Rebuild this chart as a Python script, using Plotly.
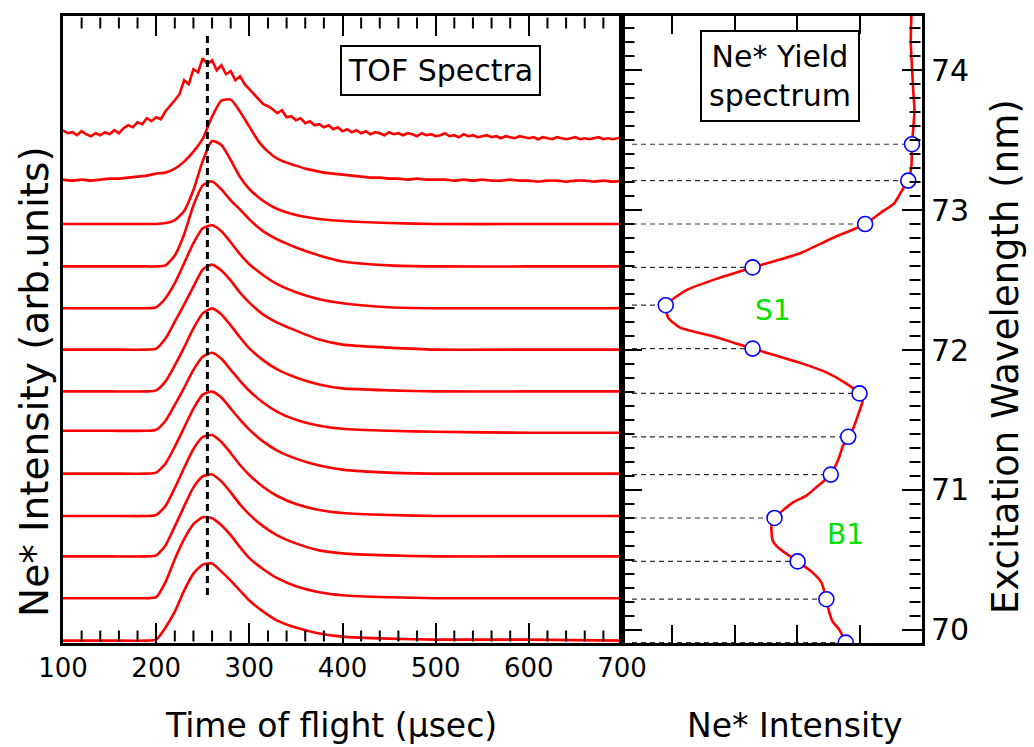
import plotly.graph_objects as go

# ---------------------------------------------------------------------------
# Data
# ---------------------------------------------------------------------------
# Excitation wavelengths (nm) at which the TOF spectra were recorded, top to bottom
wavelengths = [73.47, 73.21, 72.90, 72.59, 72.32, 72.01, 71.69, 71.38,
               71.11, 70.80, 70.49, 70.22, 69.91]
# Ne* yield at those wavelengths (arb. units)
yield_at_tof = [4.84, 4.78, 4.09, 2.29, 0.90, 2.29, 4.00, 3.82,
                3.54, 2.64, 3.01, 3.47, 3.78]

# Ne* yield spectrum (wavelength in nm, intensity in arb. units)
yield_wl = [74.39, 74.20, 74.02, 73.85, 73.71, 73.47, 73.31, 73.21, 73.14, 73.05,
            72.99, 72.90, 72.80, 72.69, 72.59, 72.51, 72.43, 72.32, 72.23, 72.16,
            72.09, 72.01, 71.91, 71.84, 71.76, 71.69, 71.64, 71.54, 71.43, 71.38,
            71.31, 71.24, 71.11, 71.02, 70.96, 70.91, 70.80, 70.74, 70.64, 70.58,
            70.49, 70.41, 70.34, 70.22, 70.12, 70.06, 70.00, 69.91]
yield_int = [4.83, 4.82, 4.84, 4.86, 4.88, 4.84, 4.83, 4.78, 4.68, 4.56,
             4.37, 4.09, 3.57, 3.04, 2.29, 1.72, 1.24, 0.90, 0.94, 1.13,
             1.72, 2.29, 3.04, 3.47, 3.79, 4.00, 4.05, 3.98, 3.89, 3.82,
             3.73, 3.68, 3.54, 3.31, 3.15, 2.93, 2.64, 2.59, 2.61, 2.72,
             3.01, 3.25, 3.39, 3.47, 3.52, 3.57, 3.68, 3.78]

# Flight-time grids (usec)
tof_5us = list(range(100, 701, 5))
tof_10us = list(range(100, 701, 10))
tof_grid = [100, 150, 190, 200, 210, 220, 230, 240, 250, 260, 270, 280, 290,
            300, 315, 330, 350, 375, 400, 450, 500, 600, 700]

# TOF spectra (counts, arb. units)
spec_7347 = [14, 11, 12, 9, 13, 10, 8, 11, 9, 12, 10, 14, 11, 16, 19, 17, 22, 20,
             26, 23, 27, 25, 33, 38, 44, 50, 64, 60, 75, 72, 86, 80, 84, 74, 79,
             70, 73, 64, 68, 60, 55, 50, 44, 40, 38, 35, 31, 34, 27, 28, 24, 26,
             21, 23, 19, 20, 17, 19, 15, 17, 13, 15, 12, 14, 11, 13, 10, 12, 11,
             9, 12, 10, 11, 9, 11, 10, 8, 11, 9, 10, 8, 9, 11, 8, 9, 7, 10, 8, 9,
             7, 8, 9, 7, 8, 6, 8, 7, 6, 8, 7, 6, 7, 5, 7, 6, 5, 7, 6, 5, 6, 7, 5,
             6, 5, 6, 7, 5, 6, 5, 6, 7]
spec_7321 = [1, 0, 1, 0, 1, 2, 2, 3, 4, 5, 7, 8, 12, 19, 29, 42, 64, 80, 81, 69,
             54, 39, 29, 22, 18, 15, 12, 10, 8, 7, 6, 5, 4, 3, 3, 2, 2, 1, 2, 1,
             1, 1, 0, 1, 0, 1, 0, 0, 1, 0, 0, -1, 0, 0, -1, 0, 0, -1, 0, -1, 0]
spec_7290 = [0, 0, 0, 0, 1, 4, 13, 34, 63, 83, 79, 64, 47, 35, 23, 15, 9, 5, 3, 1, 0, 0, 0]
spec_7259 = [1, 1, 1, 1, 2, 12, 33, 62, 82, 86, 78, 67, 58, 48, 36, 28, 20, 12, 6, 2, 1, 1, 1]
spec_7232 = [-3, -3, -3, -2, 7, 22, 42, 62, 77, 80, 74, 63, 51, 41, 30, 21, 13, 6, 2, -2, -3, -3, -3]
spec_7201 = [-1, -1, -1, 0, 10, 27, 44, 62, 79, 84, 78, 68, 56, 46, 34, 26, 18, 9, 4, 1, -1, -1, -1]
spec_7169 = [2, 2, 2, 3, 12, 28, 46, 65, 80, 85, 79, 68, 56, 45, 33, 24, 16, 9, 5, 3, 2, 2, 2]
spec_7138 = [6, 6, 6, 7, 16, 32, 49, 67, 80, 84, 78, 67, 56, 46, 34, 25, 17, 11, 8, 6, 5, 4, 4]
spec_7111 = [1, 1, 1, 2, 11, 28, 47, 66, 80, 83, 77, 66, 55, 45, 33, 24, 16, 9, 5, 2, 1, 1, 1]
spec_7080 = [2, 2, 2, 3, 12, 30, 50, 69, 81, 83, 76, 65, 53, 43, 31, 22, 14, 8, 5, 3, 2, 2, 2]
spec_7049 = [5, 5, 5, 6, 16, 35, 55, 74, 85, 87, 80, 69, 57, 47, 35, 26, 18, 11, 8, 6, 5, 5, 5]
spec_7022 = [1, 1, 1, 2, 17, 40, 60, 75, 82, 81, 74, 64, 52, 41, 30, 21, 13, 7, 4, 2, 1, 1, 1]
spec_6991 = [2, 2, 2, 3, 15, 31, 52, 69, 78, 79, 71, 62, 52, 42, 31, 22, 15, 9, 6, 4, 3, 3, 2]

spectra = [
    (tof_5us, spec_7347), (tof_10us, spec_7321), (tof_grid, spec_7290),
    (tof_grid, spec_7259), (tof_grid, spec_7232), (tof_grid, spec_7201),
    (tof_grid, spec_7169), (tof_grid, spec_7138), (tof_grid, spec_7111),
    (tof_grid, spec_7080), (tof_grid, spec_7049), (tof_grid, spec_7022),
    (tof_grid, spec_6991),
]

peak_tof = 255            # usec, marked by the vertical dashed line
peak_line_wl = [70.25, 74.26]

tof_range = [100, 700]
tof_minor = [t for t in range(120, 700, 20) if t % 100]
intensity_range = [0.2, 5.0]
intensity_ticks = [1, 2, 3, 4]
wl_minor = [round(70 + 0.1 * k, 1) for k in range(1, 44) if k % 10]

# ---------------------------------------------------------------------------
# Layout constants
# ---------------------------------------------------------------------------
W, H = 1034, 747
ML, MR, MT, MB = 63, 112, 16, 104
PW, PH = W - ML - MR, H - MT - MB
SPLIT = (622 - ML) / PW
Y_RANGE = [69.907, 74.386]
COUNT_TO_NM = 1 / 140.0   # vertical offset scale of the stacked spectra
FONT = "DejaVu Sans"
RED = "#ff0000"


def px(x):
    return (x - ML) / PW


def py(y):
    return (H - MB - y) / PH


fig = go.Figure()

# stacked TOF spectra, each lifted to its excitation wavelength
for (t, counts), wl in zip(spectra, wavelengths):
    fig.add_trace(go.Scatter(
        x=t, y=[wl + c * COUNT_TO_NM for c in counts],
        mode="lines", xaxis="x", yaxis="y",
        line=dict(color=RED, width=2.6,
                  shape="linear" if len(t) > 100 else "spline", smoothing=0.6),
        hoverinfo="skip"))

# peak position marker
fig.add_trace(go.Scatter(
    x=[peak_tof, peak_tof], y=peak_line_wl, mode="lines", xaxis="x", yaxis="y",
    line=dict(color="black", width=3, dash="7px,5px"), hoverinfo="skip"))

# guide lines from the right-panel frame to each TOF wavelength
gx, gy = [], []
for wl, val in zip(wavelengths, yield_at_tof):
    gx += [0.36, val, None]
    gy += [wl, wl, None]
fig.add_trace(go.Scatter(
    x=gx, y=gy, mode="lines", xaxis="x2", yaxis="y2",
    line=dict(color="#333333", width=1.2, dash="5px,4px"), hoverinfo="skip"))

# yield spectrum
fig.add_trace(go.Scatter(
    x=yield_int, y=yield_wl, mode="lines", xaxis="x2", yaxis="y2",
    line=dict(color=RED, width=2.6, shape="spline", smoothing=0.5),
    hoverinfo="skip"))

# yield at the TOF wavelengths
fig.add_trace(go.Scatter(
    x=yield_at_tof, y=wavelengths, mode="markers", xaxis="x2", yaxis="y2",
    marker=dict(size=15, color="white", line=dict(color="#0000ff", width=1.6)),
    hoverinfo="skip"))

base = dict(showgrid=False, zeroline=False, showline=True,
            linecolor="black", linewidth=3, tickcolor="black", tickwidth=2)

fig.update_layout(
    width=W, height=H,
    margin=dict(l=ML, r=MR, t=MT, b=MB, autoexpand=False),
    paper_bgcolor="white", plot_bgcolor="rgba(0,0,0,0)",
    showlegend=False,
    font=dict(family=FONT, color="black"),
    xaxis=dict(**base, domain=[0, SPLIT], range=tof_range, anchor="y",
               mirror="ticks", dtick=100, ticks="inside", ticklen=20,
               tickfont=dict(size=26, family=FONT, color="black")),
    yaxis=dict(**base, domain=[0, 1], range=Y_RANGE, anchor="x",
               mirror=True, ticks="", showticklabels=False),
    xaxis2=dict(**base, domain=[SPLIT, 1], range=intensity_range, anchor="y2",
                mirror="ticks", tickvals=intensity_ticks, ticks="inside",
                ticklen=18, showticklabels=False),
    yaxis2=dict(**base, domain=[0, 1], range=Y_RANGE, anchor="x2",
                side="right", dtick=1, ticks="inside", ticklen=20,
                mirror="ticks",
                tickfont=dict(size=30, family=FONT, color="black")),
)

# minor ticks on the frame edges
tick_line = dict(color="black", width=2)
shapes = []
for v in tof_minor:
    for anchor, sign in [(0, 1), (1, -1)]:
        shapes.append(dict(type="line", xref="x", yref="paper",
                           ysizemode="pixel", yanchor=anchor, x0=v, x1=v,
                           y0=1.5 * sign, y1=12.5 * sign, layer="above",
                           line=tick_line))
for v in wl_minor:
    for anchor, sign in [(SPLIT, 1), (1, -1)]:
        shapes.append(dict(type="line", xref="paper", yref="y2",
                           xsizemode="pixel", xanchor=anchor, y0=v, y1=v,
                           x0=1.5 * sign, x1=12.5 * sign, layer="above",
                           line=tick_line))

annotations = [
    dict(text="Time of flight (μsec)", x=px(331), y=py(725), font=dict(size=33)),
    dict(text="Ne* Intensity", x=px(795), y=py(725), font=dict(size=33)),
    dict(text="Ne* Intensity (arb.units)", x=px(35), y=py(382),
         textangle=-90, font=dict(size=39)),
    dict(text="Excitation Wavelength (nm)", x=px(1005), y=py(357),
         textangle=-90, font=dict(size=37)),
    dict(text="TOF Spectra", x=px(440.5), y=py(70), font=dict(size=30),
         bordercolor="black", borderwidth=2, borderpad=6, bgcolor="white"),
    dict(text="Ne* Yield<br>spectrum", x=px(779.5), y=py(76), font=dict(size=30),
         bordercolor="black", borderwidth=2, borderpad=7, bgcolor="white"),
]
for a in annotations:
    a.update(xref="paper", yref="paper", showarrow=False,
             xanchor="center", yanchor="middle")
    a["font"].update(family=FONT, color="black")

annotations += [
    dict(text="S1", x=2.61, y=72.28, xref="x2", yref="y2", showarrow=False,
         font=dict(size=28, family=FONT, color="#00e000")),
    dict(text="B1", x=3.78, y=70.68, xref="x2", yref="y2", showarrow=False,
         font=dict(size=28, family=FONT, color="#00e000")),
]
fig.update_layout(annotations=annotations, shapes=shapes)

fig.write_html("out.html")
